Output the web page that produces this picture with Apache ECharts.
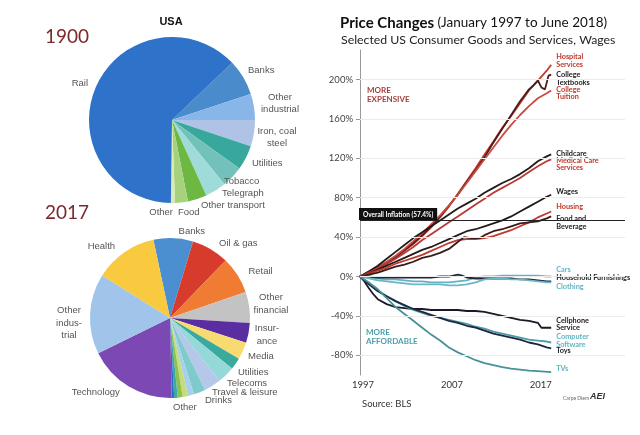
<!DOCTYPE html>
<html><head><meta charset="utf-8">
<script src="https://cdn.jsdelivr.net/npm/echarts@6/dist/echarts.min.js"></script>
<style>html,body{margin:0;padding:0;background:#fff}#c{width:640px;height:435px}</style>
</head><body><div id="c"></div>
<script>
// ---------- 1900 pie ----------
const pie1900Names = ['Banks','Other\nindustrial','Iron, coal\nsteel','Utilities','Tobacco','Telegraph','Other transport','Food','Other','Rail'];
const pie1900Values = [7.0,5.1,5.1,4.8,4.2,4.1,3.7,2.5,0.8,62.7];
const pie1900Colors = ['#4a8bcb','#88b6e9','#afc3e7','#38a89d','#72c1ba','#9fdcd9','#6cb843','#a7d27d','#d8eab5','#2f72c9'];
// ---------- 2017 pie ----------
const pie2017Names = ['Banks','Oil & gas','Retail','Other\nfinancial','Insur-\nance','Media','Utilities','Telecoms','Travel & leisure','Drinks','Other a','Other b','Other','Other d','Other e','Technology','Other\nindus-\ntrial','Health'];
const pie2017Values = [8.0,7.6,7.5,6.3,4.0,3.5,2.4,3.5,3.4,2.4,1.2,1.1,1.0,0.7,0.5,18.1,16.2,12.8];
const pie2017Colors = ['#4c8fd0','#d63b2b','#f07b32','#c3c3c3','#5a2ea0','#f8db70','#3aa99e','#95d8d8','#b6c8ea','#7fcacc','#a8d0ec','#c5dc7a','#8cc152','#3aa99e','#2e6bc4','#7b48b4','#a0c4ea','#f9ca3f'];
const pie2017Unlabeled = ['Other a','Other b','Other d','Other e'];

// ---------- Price changes ----------
const xTickYears = [1997, 2007, 2017];
const yTicks = [-80,-40,0,40,80,120,160,200];
const overallInflation = 57.4;
const hospital = [[1997,0],[1998,4],[1999,8],[2000,13],[2001,19],[2002,26],[2003,33],[2004,41],[2005,50],[2006,60],[2007,71],[2008,84],[2009,97],[2010,110],[2011,124],[2012,137],[2013,151],[2014,163],[2015,176],[2016,189],[2017,199],[2018,209],[2018.5,215]];
const textbooks = [[1997,0],[1998,5],[1999,9],[2000,14],[2001,20],[2002,27],[2003,34],[2004,42],[2005,51],[2006,61],[2007,72],[2008,83],[2009,96],[2010,108],[2011,121],[2012,136],[2013,150],[2014,164],[2015,178],[2016,190],[2016.5,194],[2017,199],[2017.4,192],[2017.8,190],[2018.2,204],[2018.5,205]];
const tuition = [[1997,0],[1998,5],[1999,10],[2000,15],[2001,21],[2002,28],[2003,36],[2004,44],[2005,53],[2006,62],[2007,72],[2008,83],[2009,95],[2010,107],[2011,119],[2012,131],[2013,143],[2014,154],[2015,164],[2016,173],[2017,181],[2018,186],[2018.5,189]];
const childcare = [[1997,0],[1998,5],[1999,11],[2000,18],[2001,25],[2002,32],[2003,39],[2004,45],[2005,51],[2006,57],[2007,63],[2008,69],[2009,74],[2010,79],[2011,85],[2012,90],[2013,95],[2014,99],[2015,104],[2016,110],[2017,117],[2018,122],[2018.5,124]];
const medical = [[1997,0],[1998,4],[1999,8],[2000,13],[2001,18],[2002,24],[2003,30],[2004,37],[2005,43],[2006,49],[2007,55],[2008,61],[2009,67],[2010,73],[2011,79],[2012,85],[2013,90],[2014,95],[2015,100],[2016,106],[2017,112],[2018,117],[2018.5,119]];
const wages = [[1997,0],[1998,3],[1999,7],[2000,11],[2001,15],[2002,19],[2003,23],[2004,27],[2005,30],[2006,34],[2007,38],[2008,42],[2009,46],[2010,48],[2011,51],[2012,54],[2013,57],[2014,61],[2015,66],[2016,71],[2017,76],[2018,81],[2018.5,83]];
const housing = [[1997,0],[1998,3],[1999,6],[2000,9],[2001,13],[2002,16],[2003,19],[2004,22],[2005,26],[2006,30],[2007,34],[2008,37],[2009,38],[2010,38],[2011,39],[2012,41],[2013,44],[2014,47],[2015,51],[2016,55],[2017,60],[2018,64],[2018.5,66]];
const food = [[1997,0],[1998,2],[1999,4],[2000,7],[2001,10],[2002,12],[2003,15],[2004,19],[2005,21],[2006,24],[2007,28],[2008,35],[2008.7,40],[2009.5,39],[2010.5,39],[2011,42],[2012,46],[2013,48],[2014,51],[2015,54],[2016,55],[2017,56],[2018,59],[2018.5,61]];
const cars = [[1997,0],[1998,-1],[1999,-2],[2000,-3],[2001,-3],[2002,-4],[2003,-5],[2004,-5],[2005,-6],[2006,-6],[2007,-6],[2008,-5],[2009,-4],[2010,-1],[2011,0],[2012,0],[2013,1],[2014,1],[2015,1],[2016,1],[2017,1],[2018,0],[2018.5,0]];
const furnishings = [[1997,0],[1998,0],[1999,-1],[2000,-1],[2001,-1],[2002,-1],[2003,-1],[2004,-1],[2005,-1],[2006,0],[2007,0],[2008,2],[2008.5,1],[2009,-1],[2010,-2],[2011,-2],[2012,-2],[2013,-2],[2014,-2],[2015,-3],[2016,-3],[2017,-4],[2018,-5],[2018.5,-5]];
const clothing = [[1997,0],[1998,-2],[1999,-4],[2000,-5],[2001,-6],[2002,-7],[2003,-8],[2004,-8],[2005,-8],[2006,-8],[2007,-9],[2008,-9],[2009,-8],[2010,-6],[2011,-3],[2012,-2],[2013,-2],[2014,-3],[2015,-3],[2016,-4],[2017,-5],[2018,-6],[2018.5,-6]];
const cellphone = [[1997,0],[1997.5,-5],[1998,-12],[1998.5,-18],[1999,-23],[2000,-28],[2001,-31],[2002,-32],[2003,-33],[2004,-33],[2005,-34],[2006,-34],[2007,-34],[2008,-34],[2009,-35],[2010,-35],[2011,-36],[2012,-38],[2013,-40],[2014,-42],[2015,-44],[2016,-45],[2017,-47],[2017.4,-52],[2018,-52],[2018.5,-52]];
const software = [[1997,0],[1998,-7],[1999,-14],[2000,-20],[2001,-25],[2002,-30],[2003,-34],[2004,-37],[2005,-40],[2006,-42],[2007,-44],[2008,-46],[2009,-48],[2010,-51],[2011,-53],[2012,-56],[2013,-58],[2014,-60],[2015,-62],[2016,-64],[2017,-65],[2018,-66],[2018.5,-67]];
const toys = [[1997,0],[1998,-8],[1999,-15],[2000,-20],[2001,-25],[2002,-29],[2003,-33],[2004,-36],[2005,-39],[2006,-42],[2007,-45],[2008,-47],[2009,-50],[2010,-52],[2011,-55],[2012,-58],[2013,-60],[2014,-62],[2015,-64],[2016,-67],[2017,-69],[2018,-72],[2018.5,-73]];
const tvs = [[1997,0],[1998,-6],[1999,-13],[2000,-22],[2001,-31],[2002,-38],[2003,-45],[2004,-52],[2005,-59],[2006,-65],[2007,-72],[2008,-77],[2009,-81],[2010,-85],[2011,-88],[2012,-90],[2013,-92],[2014,-93.5],[2015,-94.5],[2016,-95.5],[2017,-96],[2018.5,-97]];

const RED = '#c0392b', DARK = '#231a1a', NAVY = '#1d2740', TEAL = '#4e9aa8', LTEAL = '#62b4c4';
const lineDefs = [
  {name:'Hospital\nServices', data:hospital, color:'#c83a2e', labelColor:RED, dy:-4},
  {name:'College\nTextbooks', data:textbooks, color:'#4a1c1c', labelColor:'#222', dy:4},
  {name:'College\nTuition', data:tuition, color:'#cc4a40', labelColor:RED, dy:3},
  {name:'Childcare', data:childcare, color:DARK, labelColor:'#222', dy:-1},
  {name:'Medical Care\nServices', data:medical, color:'#b83a36', labelColor:RED, dy:5},
  {name:'Wages', data:wages, color:DARK, labelColor:'#222', dy:-3},
  {name:'Housing', data:housing, color:'#c0392b', labelColor:RED, dy:-4.5},
  {name:'Food and\nBeverage', data:food, color:'#3a1c1c', labelColor:'#222', dy:6},
  {name:'Cars', data:cars, color:LTEAL, labelColor:LTEAL, dy:-6.5},
  {name:'Household Furnishings', data:furnishings, color:NAVY, labelColor:'#222', dy:-3.5},
  {name:'Clothing', data:clothing, color:'#6cb6c6', labelColor:LTEAL, dy:4.5},
  {name:'Cellphone\nService', data:cellphone, color:'#1a1a26', labelColor:'#222', dy:-3.5},
  {name:'Computer\nSoftware', data:software, color:TEAL, labelColor:LTEAL, dy:-2},
  {name:'Toys', data:toys, color:NAVY, labelColor:'#222', dy:2.6},
  {name:'TVs', data:tvs, color:'#4a9098', labelColor:LTEAL, dy:-3}
];

// pie label placements (anchor x, y, alignment)
const pie1900LabelPos = {
  'Rail':[88,83,'right'], 'Banks':[248,70,'left'],
  'Other\nindustrial':[280,103,'center'], 'Iron, coal\nsteel':[277,137,'center'], 'Utilities':[252,163,'left'],
  'Tobacco':[224,181,'left'], 'Telegraph':[222,193,'left'], 'Other transport':[201,205,'left'],
  'Food':[178,212,'left'], 'Other':[173,212,'right']
};
const pie2017LabelPos = {
  'Other\nfinancial':[271,304,'center'], 'Insur-\nance':[267,335,'center'], 'Other\nindus-\ntrial':[69,323,'center'],
  'Media':[248,356,'left'], 'Utilities':[238,372,'left'], 'Telecoms':[227,383,'left'],
  'Travel & leisure':[212,392,'left'], 'Drinks':[205,400,'left'], 'Other':[173,407,'left']
};
function makeLayout(names, posMap){
  return function(params){
    const p = posMap[names[params.dataIndex]];
    if (!p) return {};
    return {x:p[0], y:p[1], align:p[2], verticalAlign:'middle'};
  };
}

const FONT = 'Lato';
const chart = echarts.init(document.getElementById('c'), null, {renderer:'canvas'});

const series = [];
series.push({
  type:'pie', center:[172,120], radius:83, startAngle:43.5, clockwise:true,
  avoidLabelOverlap:false, silent:true,
  label:{show:true, position:'outside', color:'#555', fontSize:9.5, fontFamily:'Liberation Sans', lineHeight:12},
  labelLine:{show:false, length:6, length2:0},
  labelLayout: makeLayout(pie1900Names, pie1900LabelPos),
  itemStyle:{borderWidth:0},
  data: pie1900Names.map((n,i)=>({name:n, value:pie1900Values[i], itemStyle:{color:pie1900Colors[i]}}))
});
series.push({
  type:'pie', center:[170,318], radius:80, startAngle:102, clockwise:true,
  avoidLabelOverlap:false, silent:true,
  label:{show:true, position:'outside', color:'#555', fontSize:9.5, fontFamily:'Liberation Sans', lineHeight:12.5},
  labelLine:{show:false, length:7, length2:0},
  labelLayout: makeLayout(pie2017Names, pie2017LabelPos),
  itemStyle:{borderWidth:0},
  data: pie2017Names.map((n,i)=>({name:n, value:pie2017Values[i], itemStyle:{color:pie2017Colors[i]},
     label: pie2017Unlabeled.includes(n) ? {show:false} : undefined}))
});
// gridlines on a helper series
series.push({
  type:'line', data:[], silent:true, z:1,
  markLine:{silent:true, symbol:'none', animation:false,
    data: yTicks.map(v=>({yAxis:v, lineStyle:{color:'#ebebeb', width:1, type:'solid'}, label:{show:false}}))}
});
lineDefs.forEach(d=>{
  series.push({
    type:'line', name:d.name.replace('\n',' '), data:d.data, showSymbol:false, symbol:'none', smooth:false, z:3,
    lineStyle:{color:d.color, width:1.8}, itemStyle:{color:d.color}, animation:false,
    endLabel:{show:true, formatter:()=>d.name, color:d.labelColor, fontSize:7.3, fontWeight:'bold', fontFamily:FONT, lineHeight:7.5, distance:5, offset:[0,d.dy]}
  });
});
series.push({
  type:'line', data:[], silent:true, z:4,
  markLine:{silent:true, symbol:'none', animation:false,
    data:[{yAxis:overallInflation, lineStyle:{color:'#222', width:1.2, type:'solid'},
      label:{show:true, position:'insideStartTop', formatter:'Overall Inflation (' + overallInflation + '%)', color:'#fff', backgroundColor:'#111',
        fontSize:6.5, fontWeight:'bold', fontFamily:FONT, padding:[3,4,2,4], distance:[-1,0]}}]}
});

chart.setOption({
  animation:false,
  backgroundColor:'#fff',
  grid:{left:360, right:15, top:50, bottom:60, containLabel:false},
  xAxis:{type:'value', min:1997, max:2026.8,
    axisLine:{show:true, lineStyle:{color:'#999', width:1}}, axisTick:{show:false}, splitLine:{show:false},
    axisLabel:{customValues:xTickYears, color:'#333', fontSize:9.5, fontFamily:FONT, margin:5, formatter:v=>String(v), padding:[0,0,0,6]}},
  yAxis:{type:'value', min:-100, max:230,
    axisLine:{show:true, lineStyle:{color:'#999', width:1}}, axisTick:{show:true, customValues:yTicks, length:4, lineStyle:{color:'#999'}},
    splitLine:{show:false},
    axisLabel:{customValues:yTicks, color:'#444', fontSize:9.5, fontFamily:FONT, margin:7, formatter:v=>v+'%'}},
  graphic:[
    {type:'text', x:171, y:22, style:{text:'USA', font:'bold 11px "Liberation Sans"', fill:'#111', textAlign:'center', textVerticalAlign:'middle'}},
    {type:'text', x:45, y:37, style:{text:'1900', font:'19px Lato', fill:'#7b2a2c', textAlign:'left', textVerticalAlign:'middle'}},
    {type:'text', x:45, y:213, style:{text:'2017', font:'19px Lato', fill:'#7b2a2c', textAlign:'left', textVerticalAlign:'middle'}},
    {type:'text', x:340, y:23, style:{text:'{b|Price Changes} {n|(January 1997 to June 2018)}', textVerticalAlign:'middle',
      rich:{b:{font:'bold 15px Lato', fill:'#111'}, n:{font:'13.5px Lato', fill:'#111'}}}},
    {type:'text', x:341, y:40, style:{text:'Selected US Consumer Goods and Services, Wages', font:'12.3px Lato', fill:'#222', textVerticalAlign:'middle'}},
    {type:'text', x:367, y:95, style:{text:'MORE\nEXPENSIVE', font:'bold 8px Lato', fill:'#a3403c', lineHeight:8.5, textVerticalAlign:'middle'}},
    {type:'text', x:366, y:337, style:{text:'MORE\nAFFORDABLE', font:'bold 8px Lato', fill:'#4e9eac', lineHeight:8.5, textVerticalAlign:'middle'}},
    {type:'text', x:362, y:404, style:{text:'Source: BLS', font:'9.5px Lato', fill:'#333', textVerticalAlign:'middle'}},
    {type:'text', x:563, y:398, style:{text:'Carpe Diem', font:'5px Lato', fill:'#666', textVerticalAlign:'middle'}},
    {type:'text', x:590, y:397, style:{text:'AEI', font:'italic bold 9px "Liberation Sans"', fill:'#333', textVerticalAlign:'middle'}}
  ],
  series: series
});
</script></body></html>
